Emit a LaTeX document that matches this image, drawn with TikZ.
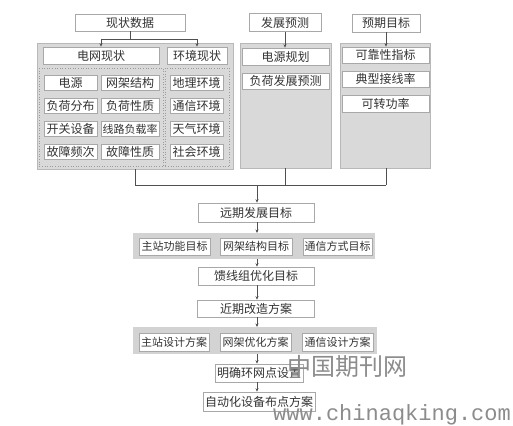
\documentclass[tikz,border=0pt]{standalone}
\usepackage{fontspec}
\newfontfamily\cjk{Noto Sans CJK SC}
\newfontfamily\wmmono{Liberation Mono}
\usetikzlibrary{arrows.meta}
\definecolor{panelgray}{HTML}{D9D9D9}
\definecolor{bandgray}{HTML}{D3D3D3}
\definecolor{boxline}{HTML}{A8A8A8}
\definecolor{dotline}{HTML}{9C9C9C}
\definecolor{lin}{HTML}{505050}
\definecolor{txt}{HTML}{333333}
\definecolor{wm}{HTML}{8C8C8C}
\begin{document}
\begin{tikzpicture}[x=1pt,y=-1pt,
  box/.style={draw=boxline, fill=white, line width=0.6pt, inner sep=0pt,
    font=\cjk\fontsize{12}{12}\selectfont, text=txt},
  sbox/.style={box, font=\cjk\fontsize{11}{11}\selectfont},
  panel/.style={fill=panelgray, draw=panelgray!85!black, line width=0.4pt, inner sep=0pt, anchor=north west},
  band/.style={fill=bandgray, draw=none, inner sep=0pt, anchor=north west},
  dotpanel/.style={draw=dotline, dotted, line width=0.6pt, inner sep=0pt, anchor=north west},
  ln/.style={draw=lin, line width=0.7pt},
  arr/.style={ln, -{Stealth[length=3.5pt,width=3pt]}}]
\useasboundingbox (0,0) rectangle (513,425);
\fill[white] (0,0) rectangle (513,425);

% ---- top headers
\node[box, minimum width=110, minimum height=17] (xz) at (130,22.5) {现状数据};
\node[box, minimum width=72, minimum height=18] (fz) at (285,22.5) {发展预测};
\node[box, minimum width=68, minimum height=18] (yq) at (386,23) {预期目标};

% ---- panels
\node[panel, minimum width=196, minimum height=126] (P1) at (37,43) {};
\node[panel, minimum width=91, minimum height=125] (P2) at (240,43) {};
\node[panel, minimum width=90, minimum height=125] (P3) at (340,43) {};

% ---- left panel content
\node[box, minimum width=116, minimum height=17] (dw) at (101,55.5) {电网现状};
\node[box, minimum width=60, minimum height=17] (hj) at (197,55.5) {环境现状};
\node[dotpanel, minimum width=124, minimum height=98] (D1) at (39,68) {};
\node[dotpanel, minimum width=64, minimum height=98] (D2) at (165,68) {};

\node[box, minimum width=53, minimum height=15] (c11) at (70.5,83) {电源};
\node[box, minimum width=58, minimum height=15] (c12) at (130,83) {网架结构};
\node[box, minimum width=53, minimum height=15] (c13) at (196.5,83) {地理环境};
\node[box, minimum width=53, minimum height=15] (c21) at (70.5,106) {负荷分布};
\node[box, minimum width=58, minimum height=15] (c22) at (130,106) {负荷性质};
\node[box, minimum width=53, minimum height=15] (c23) at (196.5,106) {通信环境};
\node[box, minimum width=53, minimum height=15] (c31) at (70.5,129) {开关设备};
\node[sbox, minimum width=58, minimum height=15] (c32) at (130,129) {线路负载率};
\node[box, minimum width=53, minimum height=15] (c33) at (196.5,129) {天气环境};
\node[box, minimum width=53, minimum height=15] (c41) at (70.5,152) {故障频次};
\node[box, minimum width=58, minimum height=15] (c42) at (130,152) {故障性质};
\node[box, minimum width=53, minimum height=15] (c43) at (196.5,152) {社会环境};

% ---- middle panel content
\node[box, minimum width=87, minimum height=17] (dg) at (285.5,56.5) {电源规划};
\node[box, minimum width=87, minimum height=16] (fh) at (285.5,81) {负荷发展预测};

% ---- right panel content
\node[box, minimum width=87, minimum height=16] (kk) at (385.5,55) {可靠性指标};
\node[box, minimum width=87, minimum height=16] (dx) at (385.5,79) {典型接线率};
\node[box, minimum width=87, minimum height=17] (kz) at (385.5,103.5) {可转功率};

% ---- top connectors
\coordinate (j1) at (130,39);
\coordinate (jl) at (101,39);
\coordinate (jr) at (197,39);
\draw[ln] (xz.south) -- (j1);
\draw[ln] (jl) -- (jr);
\draw[arr] (jl) -- (dw.north);
\draw[arr] (jr) -- (hj.north);
\draw[arr] (fz.south) -- (fz.south |- dg.north);
\draw[arr] (yq.south) -- (yq.south |- kk.north);

% ---- central column
\node[box, minimum width=116, minimum height=19] (yf) at (256,212.5) {远期发展目标};
\node[band, minimum width=242, minimum height=26] (B1) at (133,233) {};
\node[sbox, minimum width=71, minimum height=17] (b1a) at (174.5,246.5) {主站功能目标};
\node[sbox, minimum width=72, minimum height=17] (b1b) at (256,246.5) {网架结构目标};
\node[sbox, minimum width=69, minimum height=17] (b1c) at (337.5,246.5) {通信方式目标};
\node[box, minimum width=116, minimum height=18] (kx) at (256,276) {馈线组优化目标};
\node[box, minimum width=117, minimum height=17] (jq) at (256,308.5) {近期改造方案};
\node[band, minimum width=244, minimum height=27] (B2) at (133,327) {};
\node[sbox, minimum width=70, minimum height=18] (b2a) at (174,342) {主站设计方案};
\node[sbox, minimum width=71, minimum height=18] (b2b) at (255.5,342) {网架优化方案};
\node[sbox, minimum width=71, minimum height=18] (b2c) at (337.5,342) {通信设计方案};
\node[box, minimum width=88, minimum height=18] (mq) at (259,373) {明确环网点设置};
\node[box, minimum width=112, minimum height=19] (zd) at (259,401.5) {自动化设备布点方案};

% ---- merge connectors
\coordinate (m1) at (135,185);
\coordinate (m2) at (285,185);
\coordinate (m3) at (386,185);
\coordinate (mc) at (257,185);
\draw[ln] (P1.south -| m1) -- (m1);
\draw[ln] (P2.south -| m2) -- (m2);
\draw[ln] (P3.south -| m3) -- (m3);
\draw[ln] (m1) -- (m3);
\draw[arr] (mc) -- (mc |- yf.north);
\draw[arr] (yf.south -| mc) -- (mc |- B1.north);
\draw[arr] (mc |- B1.south) -- (mc |- kx.north);
\draw[arr] (kx.south -| mc) -- (mc |- jq.north);
\draw[arr] (jq.south -| mc) -- (mc |- B2.north);
\draw[arr] (mc |- B2.south) -- (mc |- mq.north);
\draw[arr] (mq.south -| mc) -- (mc |- zd.north);

% ---- watermark
\node[text=wm, font=\cjk\fontsize{24}{24}\selectfont, inner sep=0pt] (wm1) at (347,366) {中国期刊网};
\node[text=wm, font=\wmmono\fontsize{22}{22}\selectfont, inner sep=0pt, anchor=base west] (wm2) at (273,420) {www.chinaqking.com};
\end{tikzpicture}
\end{document}
